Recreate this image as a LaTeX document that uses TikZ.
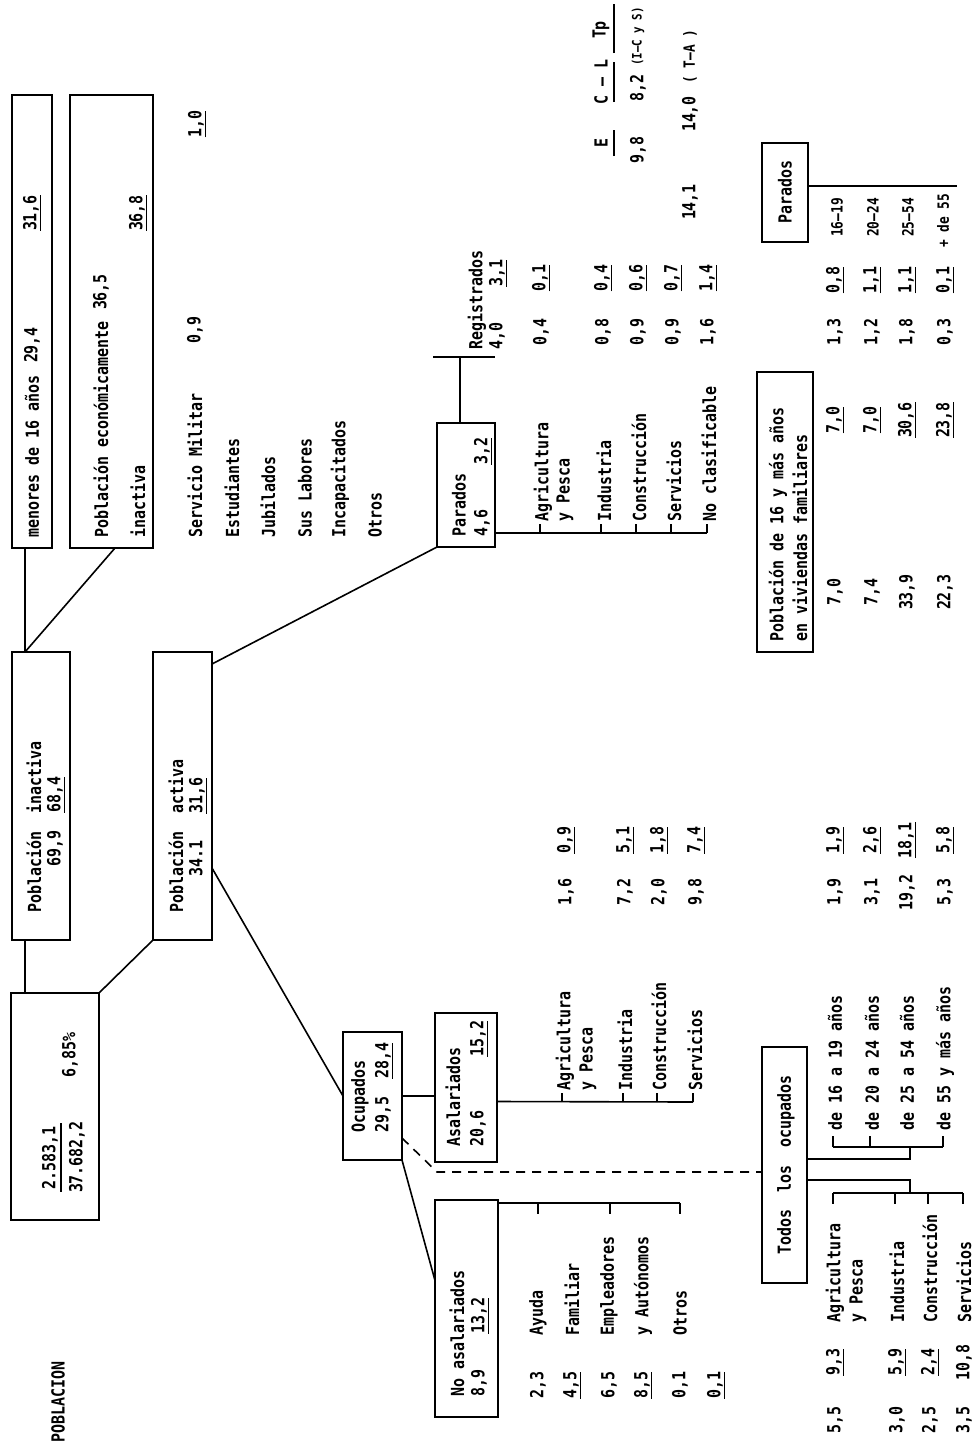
\documentclass[tikz,border=0pt]{standalone}
\usepackage{fontspec}
\setmonofont{DejaVu Sans Mono}[FakeStretch=0.83]
\newcommand\myfont{\ttfamily\bfseries\fontsize{18}{21}\selectfont}
\newcommand\smfont{\ttfamily\bfseries\fontsize{15.5}{18}\selectfont}
\newcommand\xsfont{\ttfamily\bfseries\fontsize{13}{15}\selectfont}
\begin{document}
\begin{tikzpicture}[x=1pt,y=-1pt,
  box/.style={draw,line width=1.8pt,inner sep=0pt,outer sep=0pt,anchor=north west},
  ln/.style={line width=1.6pt},
  txt/.style={rotate=90,anchor=west,inner sep=0pt,font=\myfont},
  ctxt/.style={txt,anchor=center},
  stxt/.style={txt,font=\smfont},
  sctxt/.style={ctxt,font=\smfont},
  xstxt/.style={txt,font=\xsfont}]
\useasboundingbox (0,0) rectangle (973,1449);
% ---------- boxes
\node[box,minimum width=40pt,minimum height=453pt] (A) at (12,95) {};
\node[box,minimum width=83pt,minimum height=453pt] (D) at (70,95) {};
\node[box,minimum width=58pt,minimum height=288pt] (B) at (12,652) {};
\node[box,minimum width=59pt,minimum height=288pt] (E) at (153,652) {};
\node[box,minimum width=88pt,minimum height=227pt] (C) at (11,993) {};
\node[box,minimum width=59pt,minimum height=128pt] (Oc) at (343,1032) {};
\node[box,minimum width=62pt,minimum height=149pt] (As) at (435,1013) {};
\node[box,minimum width=63pt,minimum height=217pt] (NA) at (435,1200) {};
\node[box,minimum width=58pt,minimum height=124pt] (Pa) at (437,423) {};
\node[box,minimum width=45pt,minimum height=236pt] (To) at (762,1047) {};
\node[box,minimum width=56pt,minimum height=280pt] (P16) at (757,372) {};
\node[box,minimum width=46pt,minimum height=99pt] (Pr) at (762,143) {};
% ---------- texts in boxes
\node[txt] (a1) at (32,538) {menores~de~16~años};
\node[ctxt] (a2) at (32,345) {29,4};
\node[ctxt] (a3) at (32,213) {\underline{31,6}};
\node[txt] (d1) at (101,538) {Población~económicamente};
\node[ctxt] (d2) at (101,292) {36,5};
\node[txt] (d3) at (138,538) {inactiva};
\node[ctxt] (d4) at (138,213) {\underline{36,8}};
\node[txt] (b1) at (34,913) {Población~~inactiva};
\node[txt] (b2) at (56,867) {69,9~~\underline{68,4}};
\node[txt] (e1) at (176,913) {Población~~activa};
\node[txt] (e2) at (198,877) {34.1~~~\underline{31,6}};
\node[ctxt] (c1) at (50,1158) {2.583,1};
\node[ctxt] (c2) at (77,1157) {37.682,2};
\node[ctxt] (c3) at (70,1055) {6,85\%};
\node[txt] (pob) at (58,1443) {POBLACION};
\node[txt] (o1) at (360,1133) {Ocupados};
\node[txt] (o2) at (384,1133) {29,5~~\underline{28,4}};
\node[txt] (as1) at (453,1147) {Asalariados};
\node[txt] (as2) at (479,1147) {20,6~~~~~~\underline{15,2}};
\node[txt] (na1) at (457,1397) {No~asalariados};
\node[txt] (na2) at (480,1397) {8,9~~~~\underline{13,2}};
\node[txt] (pa1) at (459,537) {Parados};
\node[txt] (pa2) at (483,537) {4,6~~~~~\underline{3,2}};
\node[txt] (r1) at (477,350) {Registrados};
\node[txt] (r2) at (498,350) {4,0~~~~\underline{3,1}};
\node[ctxt] (to1) at (786,1165) {Todos~~los~~ocupados};
\node[txt] (p161) at (778,642) {Población~de~16~y~más~años};
\node[txt] (p162) at (800,642) {en~viviendas~familiares};
\node[ctxt] (pr1) at (785,192) {Parados};
% ---------- inactive list
\node[txt] (s1) at (195,538) {Servicio~Militar};
\node[ctxt] (s1a) at (195,330) {0,9};
\node[ctxt] (s1b) at (197,124) {\underline{1,0}};
\node[txt] (s2) at (232,538) {Estudiantes};
\node[txt] (s3) at (268,538) {Jubilados};
\node[txt] (s4) at (305,538) {Sus~Labores};
\node[txt] (s5) at (340,538) {Incapacitados};
\node[txt] (s6) at (375,538) {Otros};
% ---------- parados list
\node[txt] (q1) at (543,522) {Agricultura};
\node[txt] (q1b) at (565,522) {y~Pesca};
\node[txt] (q2) at (604,522) {Industria};
\node[txt] (q3) at (639,522) {Construcción};
\node[txt] (q4) at (674,522) {Servicios};
\node[txt] (q5) at (709,522) {No~clasificable};
\node[ctxt] (q1n) at (541,332) {0,4};  \node[ctxt] (q1m) at (541,278) {\underline{0,1}};
\node[ctxt] (q2n) at (603,332) {0,8};  \node[ctxt] (q2m) at (603,278) {\underline{0,4}};
\node[ctxt] (q3n) at (638,332) {0,9};  \node[ctxt] (q3m) at (638,278) {\underline{0,6}};
\node[ctxt] (q4n) at (673,332) {0,9};  \node[ctxt] (q4m) at (673,278) {\underline{0,7}};
\node[ctxt] (q5n) at (708,332) {1,6};  \node[ctxt] (q5m) at (708,278) {\underline{1,4}};
% ---------- header
\node[ctxt] (h1) at (601,143) {E};
\node[ctxt] (h2) at (601,82) {C~–~L};
\node[ctxt] (h3) at (601,30) {Tp};
\node[ctxt] (h4) at (638,150) {9,8};
\node[ctxt] (h5) at (638,88) {8,2};
\node[xstxt] (h6) at (638,66) {(I–C~y~S)};
\node[ctxt] (h7) at (690,202) {14,1};
\node[ctxt] (h8) at (690,114) {14,0};
\node[stxt] (h9) at (690,84) {(~T–A~)};
\draw[line width=1.4pt] (614,156) -- (614,130);
\draw[line width=1.4pt] (614,102) -- (614,62);
\draw[line width=1.4pt] (614,53) -- (614,4);
% ---------- asalariados list
\node[txt] (w1) at (565,1091) {Agricultura};
\node[txt] (w1b) at (588,1091) {y~Pesca};
\node[txt] (w2) at (625,1091) {Industria};
\node[txt] (w3) at (659,1091) {Construcción};
\node[txt] (w4) at (695,1091) {Servicios};
\node[ctxt] (w1n) at (566,892) {1,6};  \node[ctxt] (w1m) at (566,840) {\underline{0,9}};
\node[ctxt] (w2n) at (625,892) {7,2};  \node[ctxt] (w2m) at (625,840) {\underline{5,1}};
\node[ctxt] (w3n) at (659,892) {2,0};  \node[ctxt] (w3m) at (659,840) {\underline{1,8}};
\node[ctxt] (w4n) at (696,892) {9,8};  \node[ctxt] (w4m) at (696,840) {\underline{7,4}};
% ---------- no asalariados list
\node[txt] (v1) at (538,1336) {Ayuda};
\node[txt] (v1b) at (572,1336) {Familiar};
\node[txt] (v2) at (609,1336) {Empleadores};
\node[txt] (v2b) at (643,1336) {y~Autónomos};
\node[txt] (v3) at (680,1336) {Otros};
\node[ctxt] (v1n) at (538,1385) {2,3};
\node[ctxt] (v1m) at (572,1385) {\underline{4,5}};
\node[ctxt] (v2n) at (609,1385) {6,5};
\node[ctxt] (v2m) at (643,1385) {\underline{8,5}};
\node[ctxt] (v3n) at (680,1385) {0,1};
\node[ctxt] (v3m) at (716,1385) {\underline{0,1}};
% ---------- ages (todos los ocupados)
\node[txt] (g1) at (835,1131) {de~16~a~19~años};
\node[txt] (g2) at (872,1131) {de~20~a~24~años};
\node[txt] (g3) at (907,1131) {de~25~a~54~años};
\node[txt] (g4) at (945,1131) {de~55~y~más~años};
\node[ctxt] (g1n) at (835,892) {1,9};  \node[ctxt] (g1m) at (835,840) {\underline{1,9}};
\node[ctxt] (g2n) at (872,892) {3,1};  \node[ctxt] (g2m) at (872,840) {\underline{2,6}};
\node[ctxt] (g3n) at (907,892) {19,2}; \node[ctxt] (g3m) at (907,840) {\underline{18,1}};
\node[ctxt] (g4n) at (945,892) {5,3};  \node[ctxt] (g4m) at (945,840) {\underline{5,8}};
\node[ctxt] (k1n) at (835,592) {7,0};  \node[ctxt] (k1m) at (835,420) {\underline{7,0}};
\node[ctxt] (k2n) at (872,592) {7,4};  \node[ctxt] (k2m) at (872,420) {\underline{7,0}};
\node[ctxt] (k3n) at (907,592) {33,9}; \node[ctxt] (k3m) at (907,420) {\underline{30,6}};
\node[ctxt] (k4n) at (945,592) {22,3}; \node[ctxt] (k4m) at (945,420) {\underline{23,8}};
\node[ctxt] (u1n) at (835,332) {1,3};  \node[ctxt] (u1m) at (835,280) {\underline{0,8}};
\node[ctxt] (u2n) at (872,332) {1,2};  \node[ctxt] (u2m) at (872,280) {\underline{1,1}};
\node[ctxt] (u3n) at (907,332) {1,8};  \node[ctxt] (u3m) at (907,280) {\underline{1,1}};
\node[ctxt] (u4n) at (945,332) {0,3};  \node[ctxt] (u4m) at (945,280) {\underline{0,1}};
\node[stxt] (x1) at (837,237) {16–19};
\node[stxt] (x2) at (873,237) {20–24};
\node[stxt] (x3) at (908,237) {25–54};
\node[stxt] (x4) at (943,248) {+~de~55};
% ---------- sectors (todos los ocupados)
\node[txt] (y1) at (835,1323) {Agricultura};
\node[txt] (y1b) at (858,1323) {y~Pesca};
\node[txt] (y2) at (897,1323) {Industria};
\node[txt] (y3) at (930,1323) {Construcción};
\node[txt] (y4) at (964,1323) {Servicios};
\node[ctxt] (y1n) at (835,1420) {5,5};  \node[ctxt] (y1m) at (835,1362) {\underline{9,3}};
\node[ctxt] (y2n) at (897,1420) {3,0};  \node[ctxt] (y2m) at (897,1362) {\underline{5,9}};
\node[ctxt] (y3n) at (930,1420) {2,5};  \node[ctxt] (y3m) at (930,1362) {\underline{2,4}};
\node[ctxt] (y4n) at (964,1420) {3,5};  \node[ctxt] (y4m) at (964,1362) {10,8};
% ---------- fraction bar in box C
\draw[line width=1.3pt] (61,1123) -- (61,1192);
% ---------- connectors
\draw[ln] ([xshift=14pt]C.north west) -- ([xshift=13pt]B.south west);
\draw[ln] (C.north east) -- (E.south west);
\draw[ln] ([xshift=13pt]B.north west) -- ([xshift=13pt]A.south west);
\draw[ln] ([xshift=13pt]B.north west) -- ([xshift=45pt]D.south west);
\draw[ln] ([yshift=-72pt]E.east) -- (Oc.west);
\draw[ln] ([yshift=-12pt]E.north east) -- (Pa.south west);
\draw[ln] (Oc.east) -- (Oc.east -| As.west);
\draw[ln] (Oc.south east) -- ([yshift=28pt]NA.west);
\coordinate (dd) at (437,1172);
\draw[ln,dash pattern=on 9pt off 7pt] ([yshift=-42pt]Oc.east) -- (dd) -- (dd -| To.west);
% registrados
\coordinate (reg) at (460,357);
\draw[ln] ([xshift=-6pt]Pa.north) -- (reg);
\draw[ln] (433,357) -- (495,357);
% parados list
\coordinate (pl) at (707,533);
\draw[ln] ([yshift=-48pt]Pa.east) -- (pl);
\foreach \t in {540,601,636,671,707} \draw[ln] (\t,533) -- (\t,524);
% asalariados list
\coordinate (al) at (693,1102);
\draw[ln] ([yshift=-14pt]As.east) -- (al);
\foreach \t in {562,623,657,693} \draw[ln] (\t,1102) -- (\t,1093);
% no asalariados list
\coordinate (nl) at (680,1203);
\draw[ln] ([yshift=-3pt]NA.north east) -- (nl);
\foreach \t in {538,610,680} \draw[ln] (\t,1203) -- (\t,1214);
% todos: ages
\coordinate (ta) at (910,1159);
\draw[ln] ([yshift=6pt]To.east) -- (ta) -- (910,1147);
\draw[ln] (833,1147) -- (943,1147);
\foreach \t in {833,870,943} \draw[ln] (\t,1147) -- (\t,1136);
% todos: sectors
\coordinate (tb) at (910,1180);
\draw[ln] ([yshift=-15pt]To.east) -- (tb) -- (910,1193);
\draw[ln] (833,1193) -- (963,1193);
\foreach \t in {833,895,928,963} \draw[ln] (\t,1193) -- (\t,1204);
% parados right
\coordinate (pe) at (957,186);
\draw[ln] ([yshift=6.5pt]Pr.east) -- (pe);
\end{tikzpicture}
\end{document}
